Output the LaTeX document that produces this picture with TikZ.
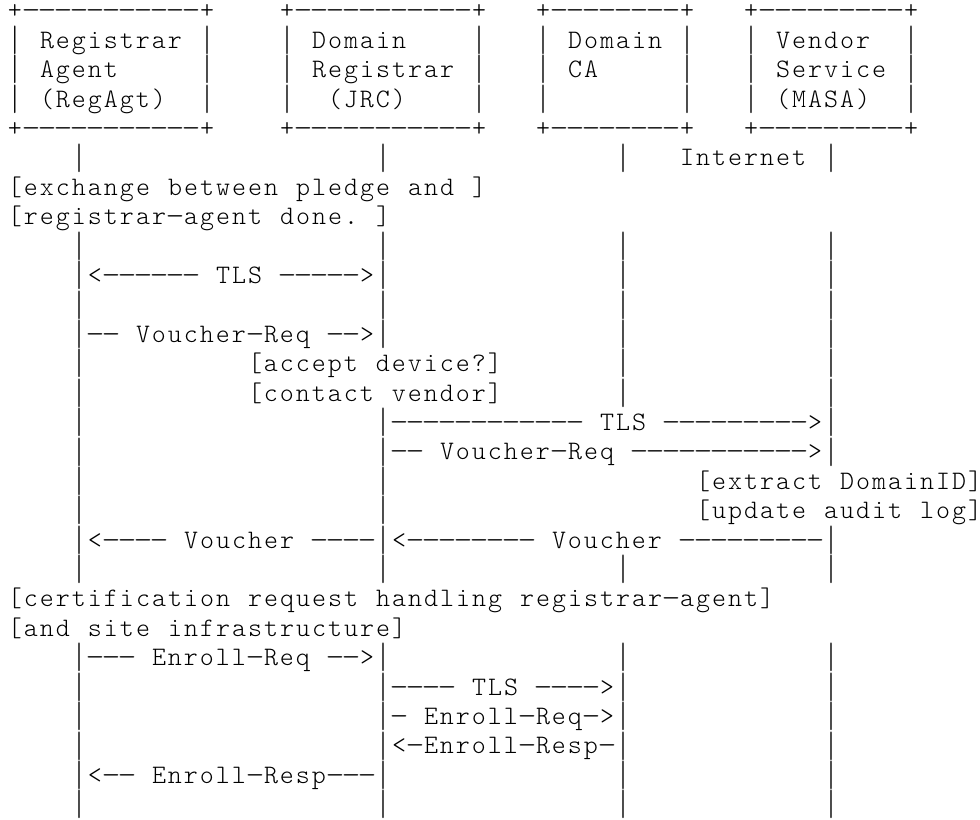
\documentclass[tikz,border=0pt]{standalone}
\usepackage{fontspec}
\usepackage{graphicx}
\newfontfamily\asciifont{lmmonolt10-regular.otf}

% a vertical bar stretched to the full row pitch, so lifelines join up
\newcommand\asciibar{\raisebox{\dimexpr\depth-4.8pt\relax}{\resizebox*{\width}{21.5pt}{|}}}
% a slightly longer hyphen, so dashed rules read as lines
\newcommand\asciidash{\scalebox{1.35}[1]{-}}

% typeset a row on a fixed 12pt character grid; \gap{n} leaves n empty cells
\ExplSyntaxOn
\dim_new:N \l_asc_cell_dim
\dim_set:Nn \l_asc_cell_dim { 12pt }
\bool_new:N \l__asc_gap_bool
\cs_new_protected:Npn \__asc_cell:n #1
  {
    \bool_if:NTF \l__asc_gap_bool
      {
        \skip_horizontal:n { \dim_eval:n { #1 \l_asc_cell_dim } }
        \bool_set_false:N \l__asc_gap_bool
      }
      {
        \tl_if_eq:nnTF { #1 } { \gap }
          { \bool_set_true:N \l__asc_gap_bool }
          {
            \tl_if_eq:nnTF { #1 } { | }
              { \makebox [ \l_asc_cell_dim ] { \asciibar } }
              {
                \tl_if_eq:nnTF { #1 } { - }
                  { \makebox [ \l_asc_cell_dim ] { \asciidash } }
                  { \makebox [ \l_asc_cell_dim ] { #1 } }
              }
          }
      }
  }
\NewDocumentCommand \asciirow { m }
  {
    \bool_set_false:N \l__asc_gap_bool
    \tl_map_function:nN { #1 } \__asc_cell:n
  }
\ExplSyntaxOff

\tikzset{
  row/.style={anchor=base west, inner sep=0pt, outer sep=0pt,
    font=\asciifont\fontsize{20pt}{22.05pt}\selectfont},
}
\begin{document}
\begin{tikzpicture}[x=1pt,y=1pt]
\fill[white] (0,0) rectangle (735,-614.25);
\useasboundingbox (0,0) rectangle (735,-614.25);
% each line of the message-flow chart, one per text row
\node[row] (r0)  at (5.25,{-(14.175+0*22.05)})  {\asciirow{+-----------+\gap{4}+-----------+\gap{3}+--------+\gap{3}+---------+}};
\node[row] (r1)  at (5.25,{-(14.175+1*22.05)})  {\asciirow{|~Registrar~|\gap{4}|~Domain\gap{4}|\gap{3}|~Domain~|\gap{3}|~Vendor\gap{2}|}};
\node[row] (r2)  at (5.25,{-(14.175+2*22.05)})  {\asciirow{|~Agent\gap{5}|\gap{4}|~Registrar~|\gap{3}|~CA\gap{5}|\gap{3}|~Service~|}};
\node[row] (r3)  at (5.25,{-(14.175+3*22.05)})  {\asciirow{|~(RegAgt)\gap{2}|\gap{4}|\gap{2}(JRC)\gap{4}|\gap{3}|\gap{8}|\gap{3}|~(MASA)\gap{2}|}};
\node[row] (r4)  at (5.25,{-(14.175+4*22.05)})  {\asciirow{+-----------+\gap{4}+-----------+\gap{3}+--------+\gap{3}+---------+}};
\node[row] (r5)  at (5.25,{-(14.175+5*22.05)})  {\asciirow{\gap{4}|\gap{18}|\gap{14}|\gap{3}Internet~|}};
\node[row] (r6)  at (5.25,{-(14.175+6*22.05)})  {\asciirow{[exchange~between~pledge~and~]}};
\node[row] (r7)  at (5.25,{-(14.175+7*22.05)})  {\asciirow{[registrar-agent~done.~]}};
\node[row] (r8)  at (5.25,{-(14.175+8*22.05)})  {\asciirow{\gap{4}|\gap{18}|\gap{14}|\gap{12}|}};
\node[row] (r9)  at (5.25,{-(14.175+9*22.05)})  {\asciirow{\gap{4}|<------~TLS~----->|\gap{14}|\gap{12}|}};
\node[row] (r10) at (5.25,{-(14.175+10*22.05)}) {\asciirow{\gap{4}|\gap{18}|\gap{14}|\gap{12}|}};
\node[row] (r11) at (5.25,{-(14.175+11*22.05)}) {\asciirow{\gap{4}|--~Voucher-Req~-->|\gap{14}|\gap{12}|}};
\node[row] (r12) at (5.25,{-(14.175+12*22.05)}) {\asciirow{\gap{4}|\gap{10}[accept~device?]\gap{7}|\gap{12}|}};
\node[row] (r13) at (5.25,{-(14.175+13*22.05)}) {\asciirow{\gap{4}|\gap{10}[contact~vendor]\gap{7}|\gap{12}|}};
\node[row] (r14) at (5.25,{-(14.175+14*22.05)}) {\asciirow{\gap{4}|\gap{18}|------------~TLS~--------->|}};
\node[row] (r15) at (5.25,{-(14.175+15*22.05)}) {\asciirow{\gap{4}|\gap{18}|--~Voucher-Req~----------->|}};
\node[row] (r16) at (5.25,{-(14.175+16*22.05)}) {\asciirow{\gap{4}|\gap{18}|\gap{19}[extract~DomainID]}};
\node[row] (r17) at (5.25,{-(14.175+17*22.05)}) {\asciirow{\gap{4}|\gap{18}|\gap{19}[update~audit~log]}};
\node[row] (r18) at (5.25,{-(14.175+18*22.05)}) {\asciirow{\gap{4}|<----~Voucher~----|<--------~Voucher~---------|}};
\node[row] (r19) at (5.25,{-(14.175+19*22.05)}) {\asciirow{\gap{4}|\gap{18}|\gap{14}|\gap{12}|}};
\node[row] (r20) at (5.25,{-(14.175+20*22.05)}) {\asciirow{[certification~request~handling~registrar-agent]}};
\node[row] (r21) at (5.25,{-(14.175+21*22.05)}) {\asciirow{[and~site~infrastructure]}};
\node[row] (r22) at (5.25,{-(14.175+22*22.05)}) {\asciirow{\gap{4}|---~Enroll-Req~-->|\gap{14}|\gap{12}|}};
\node[row] (r23) at (5.25,{-(14.175+23*22.05)}) {\asciirow{\gap{4}|\gap{18}|----~TLS~---->|\gap{12}|}};
\node[row] (r24) at (5.25,{-(14.175+24*22.05)}) {\asciirow{\gap{4}|\gap{18}|-~Enroll-Req->|\gap{12}|}};
\node[row] (r25) at (5.25,{-(14.175+25*22.05)}) {\asciirow{\gap{4}|\gap{18}|<-Enroll-Resp-|\gap{12}|}};
\node[row] (r26) at (5.25,{-(14.175+26*22.05)}) {\asciirow{\gap{4}|<--~Enroll-Resp---|\gap{14}|\gap{12}|}};
\node[row] (r27) at (5.25,{-(14.175+27*22.05)}) {\asciirow{\gap{4}|\gap{18}|\gap{14}|\gap{12}|}};
\end{tikzpicture}
\end{document}
